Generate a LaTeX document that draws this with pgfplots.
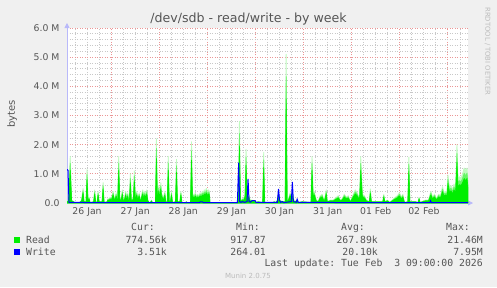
\documentclass[border=0pt]{standalone}
\usepackage{fontspec}
\setmainfont{DejaVu Sans}
\setmonofont{DejaVu Sans Mono}
\usepackage{pgfplots}
\usepackage{pgfplotstable}
\pgfplotsset{compat=1.18}
\usetikzlibrary{arrows.meta}
\definecolor{bggray}{HTML}{F0F0F0}
\definecolor{mgrid}{RGB}{235,150,150}
\definecolor{ngrid}{RGB}{200,200,200}
\definecolor{axcol}{RGB}{185,185,250}
\definecolor{txt}{HTML}{555555}
\definecolor{faint}{HTML}{BBBBBB}
\definecolor{readc}{HTML}{00EE00}
\definecolor{writec}{HTML}{0000FF}
\pgfplotstableread{
h v
2 0.05
2.8 0.1
3.6 1.6
4.3 0.1
5.3 0.05
6 0.01
8.3 0.02
9.3 0.1
10 0.5
10.5 0.05
11.5 0.05
12 1.15
12.5 0.05
13 0.2
13.5 0.02
15.3 0.05
15.8 0.45
16.3 0.05
17 0.02
17.5 0.4
18 0.05
19.5 0.05
20 0.7
20.5 0.02
22 0.05
22.5 0.15
23 0.1
23.5 0.2
24 0.1
24.5 0.25
25 0.4
25.5 0.2
26 0.15
26.5 0.35
27 0.1
27.3 0.15
27.8 1.6
28.3 0.2
29 0.1
29.6 0.45
30.1 0.05
30.8 0.2
31.3 0.4
31.8 0.1
32.3 0.35
32.8 0.05
33.1 0.05
33.6 1.0
34.1 0.05
35.1 0.2
35.6 1.1
36.1 0.15
36.8 0.4
37.3 0.15
38 0.35
38.5 0.05
39.3 0.3
39.8 0.45
40.3 0.2
40.8 0.4
41.3 0.25
41.8 0.45
42.3 0.1
43 0.02
43.6 0.02
44.1 0.1
44.6 0.02
46.1 0.02
46.6 2.2
47.1 0.1
47.8 0.6
48.3 0.2
48.8 0.7
49.3 0.1
49.8 0.3
50.3 0.05
50.8 0.4
51.3 0.02
52 0.05
52.5 1.6
53 0.05
53.6 0.05
54.1 0.4
54.6 0.02
56.1 0.05
56.6 1.5
57.1 0.05
58.3 0.05
58.8 0.4
59.3 0.02
61.1 0.02
61.6 0.05
62.1 0.01
63.6 0.02
64.1 2.1
64.6 0.2
65 0.3
65.5 0.25
66 0.35
66.5 0.2
67 0.3
67.5 0.25
68 0.3
68.5 0.35
69 0.3
69.5 0.4
70 0.35
70.5 0.45
71 0.4
71.5 0.5
72 0.35
72.5 0.45
73 0.4
73.3 0.02
73.6 0
87 0
87.5 0.05
88 2.8
88.5 0.1
89 0.1
89.5 0.15
90 0.1
90.8 0.3
91.3 1.84
91.8 0.3
92.3 0.3
92.8 0.25
93.3 0.1
94 0.1
95 0.08
95.8 0.05
96.5 0.02
97.3 0.05
99.6 0.02
100.1 1.74
100.6 0.02
104.8 0.02
105.3 0.05
106 0.02
107 0.1
107.5 0.4
108 0.1
109.3 0.05
110.8 0.05
111.3 5.1
111.8 0.1
112.3 0.1
113.3 0.35
114.3 0.35
115.3 0.05
116.8 0.1
117.5 0.02
119.3 0.05
123.7 0.02
124.2 1.59
124.8 0.2
125.3 0.4
126.3 0.1
127.3 0.05
128.3 0.25
129.3 0.3
130.3 0.05
131.3 0.45
131.8 0.05
133.3 0.1
134.8 0.1
137.3 0.25
138.3 0.1
139.3 0.15
140.3 0.3
141.3 0.2
142.3 0.25
143.3 0.05
144.8 0.3
145.8 0.45
146.8 0.35
147.5 0.2
148 0.3
148.5 1.59
149.3 0.3
150.3 0.25
151.3 0.1
152.8 0.05
153.3 0.48
153.8 0.05
154.8 0.05
156.3 0.05
159.5 0.05
160 0.3
160.5 0.05
161.8 0.1
163 0.02
165.8 0.2
166.8 0.25
167.8 0.35
168.8 0.2
169.5 0.3
170.3 0.02
172 0.05
172.5 1.57
173 0.05
174.3 0.05
175.8 0.05
177.1 0.02
177.6 0.2
178.1 0.02
180.8 0.1
182.3 0.1
183.5 0.4
184.3 0.2
185.3 0.3
186.3 0.15
187.3 0.3
188.3 0.25
189.3 0.56
190 0.35
190.8 0.4
191.5 0.35
192 0.96
192.8 0.5
193.5 0.6
194.3 0.45
195 0.65
195.8 0.5
196.5 2.0
197 0.8
197.8 0.9
198.5 0.85
199.3 1.0
200.1 1.2
200.8 1.1
201.5 1.2
202 0.77
}\readtab
\pgfplotstableread{
h v
2 1.15
2.5 1.12
3 0.02
30 0.01
68 0.01
68.5 0.04
69.5 0.04
70 0.01
87 0.01
87.6 1.38
88.1 0.05
88.8 0.02
89.5 0.05
90.5 0.02
91.8 0.05
92.3 0.83
92.8 0.05
93.5 0.03
94.3 0.08
95.8 0.08
96.3 0.02
106.9 0.02
107.5 0.48
108 0.1
108.5 0.02
109.5 0.05
110 0.01
113.9 0.05
114.4 0.72
114.9 0.05
116.3 0.02
116.8 0.13
117.3 0.02
183 0.01
183.3 0.08
183.8 0.01
202 0.01
}\writetab
\begin{document}
\begin{tikzpicture}[x=1pt,y=1pt]
\useasboundingbox (0,0) rectangle (497,287);
\fill[bggray] (0,0) rectangle (497,287);
\begin{axis}[
  at={(67pt,84pt)}, anchor=south west,
  width=401pt, height=175pt, scale only axis,
  xmin=2, xmax=202, ymin=0, ymax=6,
  axis background/.style={fill=white},
  axis x line=bottom, axis y line=left,
  axis line style={axcol, line width=0.8pt},
  every outer x axis line/.append style={-{Triangle[length=5pt,width=5pt]}, shorten >=-5pt},
  every outer y axis line/.append style={-{Triangle[length=5pt,width=5pt]}, shorten >=-5pt},
  xtick={24,48,72,96,120,144,168,192}, xticklabels={},
  minor xtick={6,12,18,30,36,42,54,60,66,78,84,90,102,108,114,126,132,138,150,156,162,174,180,186,198},
  extra x ticks={12,36,60,84,108,132,156,180},
  extra x tick labels={26 Jan,27 Jan,28 Jan,29 Jan,30 Jan,31 Jan,01 Feb,02 Feb},
  extra x tick style={grid=none, major tick length=0pt},
  ytick={0,1,2,3,4,5,6},
  yticklabels={0.0,1.0 M,2.0 M,3.0 M,4.0 M,5.0 M,6.0 M},
  minor ytick={0.2,0.4,0.6,0.8,1.2,1.4,1.6,1.8,2.2,2.4,2.6,2.8,3.2,3.4,3.6,3.8,4.2,4.4,4.6,4.8,5.2,5.4,5.6,5.8},
  major tick length=0pt, minor tick length=0pt,
  grid=both,
  major grid style={mgrid, line width=1pt, dash pattern=on 1pt off 1.5pt},
  minor grid style={ngrid, line width=0.9pt, dash pattern=on 1pt off 1.5pt},
  tick label style={font=\fontsize{9.3}{10}\selectfont, text=txt},
  /pgf/number format/assume math mode=true,
  yticklabel style={xshift=-4pt},
  xticklabel style={yshift=-1pt},
  clip=true,
]
% Read: the same series drawn three times so that the spike tops fade as in the reference
\addplot[fill=readc!25, draw=readc!25, line width=0.8pt, line join=round] table[x=h, y=v] {\readtab} \closedcycle;
\addplot[fill=readc!60, draw=readc!60, line width=0.7pt, line join=round] table[x=h, y expr=0.85*\thisrow{v}] {\readtab} \closedcycle;
\addplot[fill=readc, draw=readc, line width=0.6pt, line join=round] table[x=h, y expr=0.7*\thisrow{v}] {\readtab} \closedcycle;
\addplot[writec, line width=1pt] table[x=h, y=v] {\writetab};
\end{axis}
% title and side texts
\node[text=txt, font=\fontsize{12.6}{14}\selectfont] at (248.5,267.5) {/dev/sdb - read/write - by week};
\node[text=txt, font=\fontsize{10}{12}\selectfont, rotate=90] at (12,173) {bytes};
\node[text=faint, font=\fontsize{6.8}{8}\selectfont, rotate=-90, anchor=west] at (487.5,283) {RRDTOOL / TOBI OETIKER};
% legend
\begin{scope}[every node/.style={text=txt, font=\ttfamily\fontsize{9.8}{11}\selectfont, inner sep=0pt}]
\node[anchor=base east] at (155,56.1) {Cur:};
\node[anchor=base east] at (260,56.1) {Min:};
\node[anchor=base east] at (365,56.1) {Avg:};
\node[anchor=base east] at (470,56.1) {Max:};
\fill[readc] (14,44) rectangle (20,50);
\node[anchor=base west] at (26,43.7) {Read};
\node[anchor=base east] at (167,43.7) {774.56k};
\node[anchor=base east] at (266,43.7) {917.87};
\node[anchor=base east] at (378,43.7) {267.89k};
\node[anchor=base east] at (483,43.7) {21.46M};
\fill[writec] (14,32) rectangle (20,38);
\node[anchor=base west] at (26,31.7) {Write};
\node[anchor=base east] at (167,31.7) {3.51k};
\node[anchor=base east] at (266,31.7) {264.01};
\node[anchor=base east] at (378,31.7) {20.10k};
\node[anchor=base east] at (483,31.7) {7.95M};
\node[anchor=base east] at (483,20.1) {Last update: Tue Feb\ \ 3 09:00:00 2026};
\end{scope}
\node[text=faint, font=\fontsize{7}{8}\selectfont, anchor=base, inner sep=0pt] at (248,8.5) {Munin 2.0.75};
\end{tikzpicture}
\end{document}
